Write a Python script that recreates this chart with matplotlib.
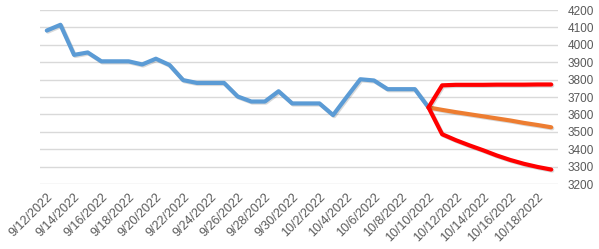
import numpy as np
import pandas as pd
import matplotlib
matplotlib.use("Agg")
import matplotlib.pyplot as plt
import matplotlib.patheffects as pe

plt.rcParams['font.family'] = ['Liberation Sans', 'DejaVu Sans']

# daily dates, 9/12/2022 .. 10/19/2022
dates = pd.date_range("2022-09-12", "2022-10-19", freq="D")
labels = [f"{d.month}/{d.day}/{d.year}" for d in dates]

# actuals 9/12 .. 10/10
actual = [4082, 4115, 3942, 3956, 3905, 3905, 3905, 3887, 3920, 3884,
          3797, 3781, 3781, 3781, 3703, 3674, 3674, 3733, 3663, 3663,
          3663, 3596, 3700, 3802, 3795, 3745, 3745, 3745, 3640]

# forecast 10/10 .. 10/19
forecast = [3640, 3626, 3613, 3601, 3589, 3577, 3565, 3551, 3539, 3526]
upper = [3640, 3767, 3770, 3770, 3770, 3771, 3771, 3771, 3772, 3772]
lower = [3640, 3486, 3452, 3422, 3394, 3364, 3338, 3316, 3298, 3283]

x_act = np.arange(len(actual))
x_fc = np.arange(len(actual) - 1, len(dates))

fig = plt.figure(figsize=(5.99, 2.49), dpi=100)
ax = fig.add_axes([40 / 599, 1 - 184 / 249, 518 / 599, 174 / 249])

shadow = [pe.SimpleLineShadow(offset=(0.8, -0.8), alpha=0.15, shadow_color="k"), pe.Normal()]
lw = 3.0
ax.plot(x_act, actual, color="#5B9BD5", lw=lw, solid_capstyle="round", path_effects=shadow, zorder=3)
ax.plot(x_fc, forecast, color="#ED7D31", lw=lw, solid_capstyle="round", path_effects=shadow, zorder=4)
ax.plot(x_fc, upper, color="#FF0000", lw=lw, solid_capstyle="round", path_effects=shadow, zorder=5)
ax.plot(x_fc, lower, color="#FF0000", lw=lw, solid_capstyle="round", path_effects=shadow, zorder=5)

ax.set_xlim(-0.5, len(dates) - 0.5)
ax.set_ylim(3200, 4200)
ax.set_yticks(np.arange(3200, 4201, 100))
ax.yaxis.tick_right()
ax.grid(axis="y", color="#D9D9D9", lw=1)
ax.set_axisbelow(True)

ticks = np.arange(0, len(dates), 2)
ax.set_xticks(ticks)
ax.set_xticklabels([labels[i] for i in ticks], rotation=45, ha="right",
                   rotation_mode="anchor")

ax.tick_params(axis="both", length=0, colors="#595959")
ax.tick_params(axis="y", pad=7, labelsize=8.5)
ax.tick_params(axis="x", pad=5, labelsize=9)
for s in ax.spines.values():
    s.set_visible(False)

fig.savefig("out.png", dpi=100)
